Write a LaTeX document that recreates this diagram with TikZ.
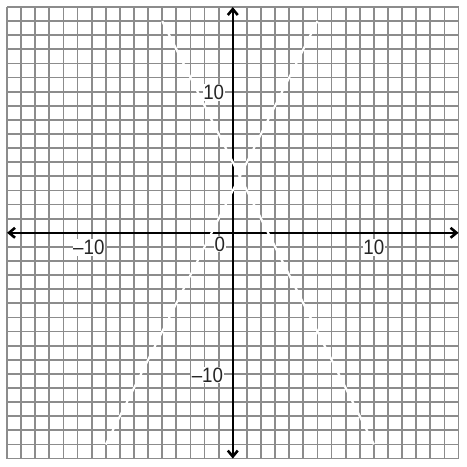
\documentclass[tikz,border=0pt]{standalone}
\usepackage{fontspec}
\setmainfont{Liberation Sans}
\usetikzlibrary{arrows.meta}

\begin{document}
\begin{tikzpicture}[x=0.25cm, y=0.25cm,
  gline/.style={draw=black!45, line width=0.9pt},
  axis/.style={draw=black, line width=1.3pt,
    {Straight Barb[length=3pt,width=5pt]}-{Straight Barb[length=3pt,width=5pt]}},
  wline/.style={draw=white, line width=1.1pt},
  tlabel/.style={font=\fontsize{10.5}{12}\selectfont, text=black!85,
    fill=white, inner sep=0.4pt, xscale=0.9},
]
\useasboundingbox (-16.5,-16.6) rectangle (16.6,16.5);

%==================== GRID ====================
\draw[gline, step=0.25cm] (-16,-16) grid (16,16);

%==================== SUMBU ====================
\coordinate (xl) at (-16,0);
\coordinate (xr) at (16,0);
\coordinate (yb) at (0,-16);
\coordinate (yt) at (0,16);
\draw[axis] (xl) -- (xr);
\draw[axis] (yb) -- (yt);

%==================== GARIS PUTIH ====================
% y = -2x + 5
\coordinate (A1) at (-5,15);
\coordinate (A2) at (10,-15);
\draw[wline] (A1) -- (A2);
% y = 2x + 3
\coordinate (B1) at (-9,-15);
\coordinate (B2) at (6,15);
\draw[wline] (B1) -- (B2);

%==================== LABEL ====================
\node[tlabel] (xp10) at (10,-1.05)    {10};
\node[tlabel] (xm10) at (-10.2,-1.05) {\textendash10};
\node[tlabel] (orig) at (-0.92,-0.8)  {0};
\node[tlabel] (yp10) at (-1.35,9.95)  {10};
\node[tlabel] (ym10) at (-1.8,-10.1)  {\textendash10};

\end{tikzpicture}
\end{document}
